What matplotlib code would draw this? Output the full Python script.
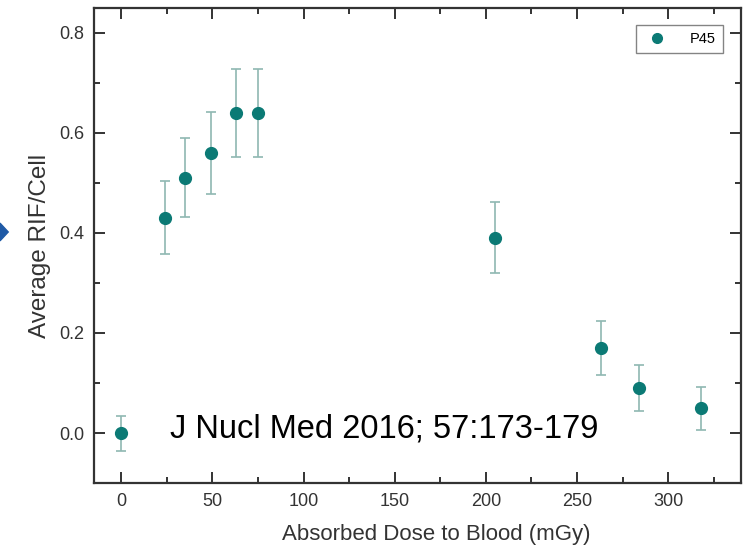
import matplotlib.pyplot as plt
from matplotlib.patches import Polygon
from matplotlib.lines import Line2D
from matplotlib.ticker import MultipleLocator

plt.rcParams['font.family'] = ['Liberation Sans', 'DejaVu Sans']

dose = [0, 24, 35, 49, 63, 75, 205, 263, 284, 318]
rif = [0.0, 0.43, 0.51, 0.56, 0.64, 0.64, 0.39, 0.17, 0.09, 0.05]
err = [0.035, 0.073, 0.079, 0.082, 0.088, 0.088, 0.071, 0.054, 0.045, 0.043]

fig = plt.figure(figsize=(7.48, 5.55), dpi=100)
ax = fig.add_axes([0.1257, 0.1297, 0.865, 0.856])

ax.errorbar(dose, rif, yerr=err, fmt='o', color='#0b7a75', ms=8.5,
            ecolor='#8fb8b2', elinewidth=1.2, capsize=3.5, capthick=1.2,
            zorder=3)

ax.set_xlim(-15, 340)
ax.set_ylim(-0.1, 0.85)
ax.xaxis.set_major_locator(MultipleLocator(50))
ax.xaxis.set_minor_locator(MultipleLocator(25))
ax.yaxis.set_major_locator(MultipleLocator(0.2))
ax.yaxis.set_minor_locator(MultipleLocator(0.1))
ax.yaxis.set_major_formatter(plt.FormatStrFormatter('%.1f'))

ax.tick_params(which='both', direction='in', top=True, right=True,
               colors='#333333', labelsize=13, width=1.4)
ax.tick_params(which='major', length=8, pad=7)
ax.tick_params(which='minor', length=4)
for s in ax.spines.values():
    s.set_linewidth(1.6)
    s.set_color('#333333')

ax.set_xlabel('Absorbed Dose to Blood (mGy)', fontsize=16, color='#333333')
ax.xaxis.set_label_coords(0.529, -0.086)
ax.set_ylabel('Average RIF/Cell', fontsize=17.5, color='#333333', labelpad=6)

ax.text(0.1175, 0.095, 'J Nucl Med 2016; 57:173-179', transform=ax.transAxes,
        fontsize=23.5, color='black')

proxy = Line2D([], [], ls='none', marker='o', color='#0b7a75', ms=7)
leg = ax.legend([proxy], ['P45'], loc='upper right', fontsize=10.5, frameon=True,
                fancybox=False, edgecolor='#666666', borderpad=0.5,
                handletextpad=1.2, bbox_to_anchor=(0.983, 0.98))
leg.get_frame().set_linewidth(1.0)

fig.patches.append(Polygon([[0.0, 0.598], [0.011, 0.582], [0.0, 0.566]],
                           closed=True, transform=fig.transFigure,
                           color='#1f5aa6', figure=fig))

fig.savefig('out.png', dpi=100)
